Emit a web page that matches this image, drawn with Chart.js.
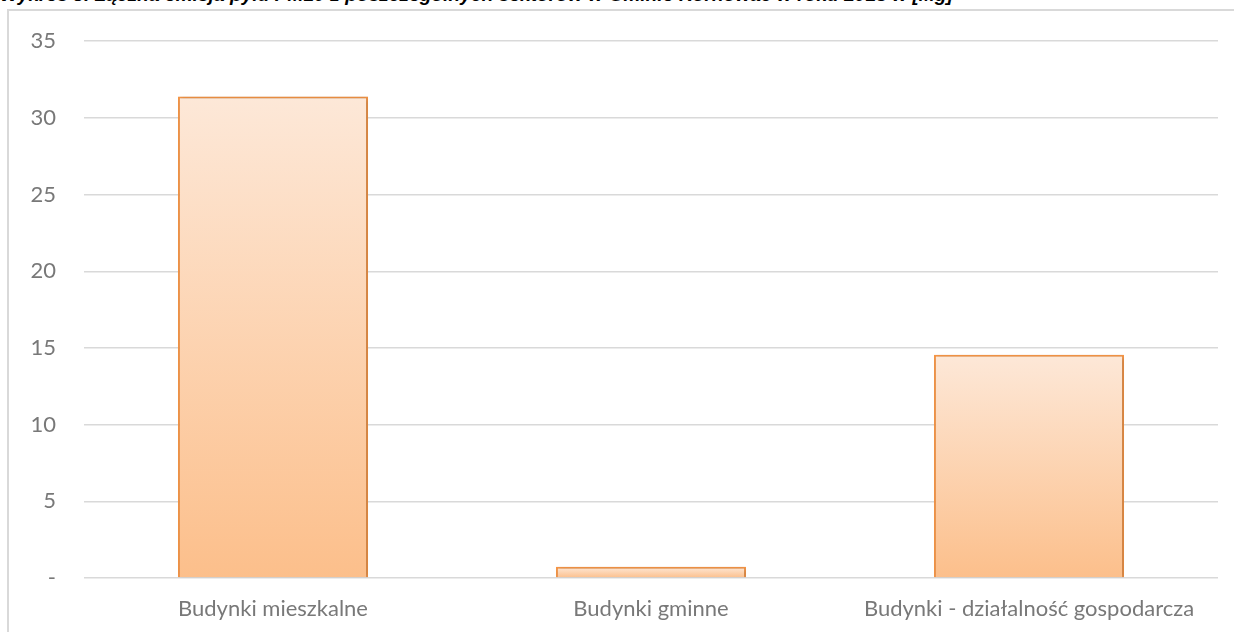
<!DOCTYPE html>
<html lang="pl">
<head>
<meta charset="utf-8">
<script src="https://cdn.jsdelivr.net/npm/chart.js@4/dist/chart.umd.min.js"></script>
<style>
  html, body { margin: 0; padding: 0; background: #fff; overflow: hidden; }
  #wrap { position: relative; width: 1234px; height: 632px; overflow: hidden; }
  #title {
    position: absolute; left: 0; top: -15px; white-space: nowrap;
    font: italic bold 18px "Liberation Sans", Arial, sans-serif; color: #000;
    transform-origin: 0 0;
  }
  #frame {
    position: absolute; left: 7px; top: 9px; width: 1300px; height: 700px;
    border: 2px solid #d9d9d9; box-sizing: border-box;
  }
  #chart { position: absolute; left: 0; top: 0; }
</style>
</head>
<body>
<div id="wrap">
  <div id="title">Wykres 3. Łączna emisja pyłu PM10 z poszczególnych sektorów w Gminie Kornowac w roku 2018 w [Mg]</div>
  <div id="frame"></div>
  <canvas id="chart" width="1234" height="632"></canvas>
</div>
<script>
  // kategorie i wartości emisji [Mg]
  const sektory = ['Budynki mieszkalne', 'Budynki gminne', 'Budynki - działalność gospodarcza'];
  const emisja = [31.4, 0.73, 14.55];
  const osY = { min: 0, max: 35, krok: 5 };

  // tytuł rozciągnięty na szerokość wykresu
  const title = document.getElementById('title');
  title.style.transform = 'scaleX(' + (953 / title.offsetWidth) + ')';

  const tickFont = { family: 'Lato, "Open Sans", sans-serif', size: 22 };
  const tickColor = '#787878';

  // gradient dla każdego słupka osobno (jasny u góry, ciemniejszy u dołu)
  function barFill(ctx) {
    const chart = ctx.chart;
    if (!chart.chartArea || !chart.scales.y) return '#fcd3b0';
    const y = chart.scales.y;
    const top = y.getPixelForValue(ctx.raw);
    const base = y.getPixelForValue(0);
    const g = chart.ctx.createLinearGradient(0, top, 0, base);
    g.addColorStop(0, '#fde8d8');
    g.addColorStop(1, '#fcbf8b');
    return g;
  }

  // lekki cień pod słupkami
  const barShadow = {
    id: 'barShadow',
    beforeDatasetsDraw(chart) {
      const c = chart.ctx;
      c.save();
      c.shadowColor = 'rgba(0,0,0,0.28)';
      c.shadowBlur = 4;
      c.shadowOffsetX = 1;
      c.shadowOffsetY = 1;
    },
    afterDatasetsDraw(chart) {
      chart.ctx.restore();
    }
  };

  new Chart(document.getElementById('chart'), {
    type: 'bar',
    data: {
      labels: sektory,
      datasets: [{
        data: emisja,
        backgroundColor: barFill,
        borderColor: '#f79646',
        borderWidth: 2,
        barPercentage: 1,
        categoryPercentage: 0.503
      }]
    },
    options: {
      responsive: false,
      animation: false,
      layout: { padding: { top: 39, right: 16, bottom: 0, left: 0 } },
      plugins: { legend: { display: false }, tooltip: { enabled: false } },
      scales: {
        x: {
          grid: { display: false },
          border: { display: false },
          ticks: { font: tickFont, color: tickColor, padding: 10, maxRotation: 0 },
          afterFit(scale) { scale.height = 54; }
        },
        y: {
          min: osY.min,
          max: osY.max,
          grid: { color: '#d9d9d9', lineWidth: 1.5, drawTicks: false },
          border: { display: false },
          ticks: {
            stepSize: osY.krok,
            font: tickFont,
            color: tickColor,
            padding: 28,
            callback: v => v === 0 ? '-' : v
          },
          afterFit(scale) { scale.width = 84; }
        }
      }
    },
    plugins: [barShadow]
  });
</script>
</body>
</html>
